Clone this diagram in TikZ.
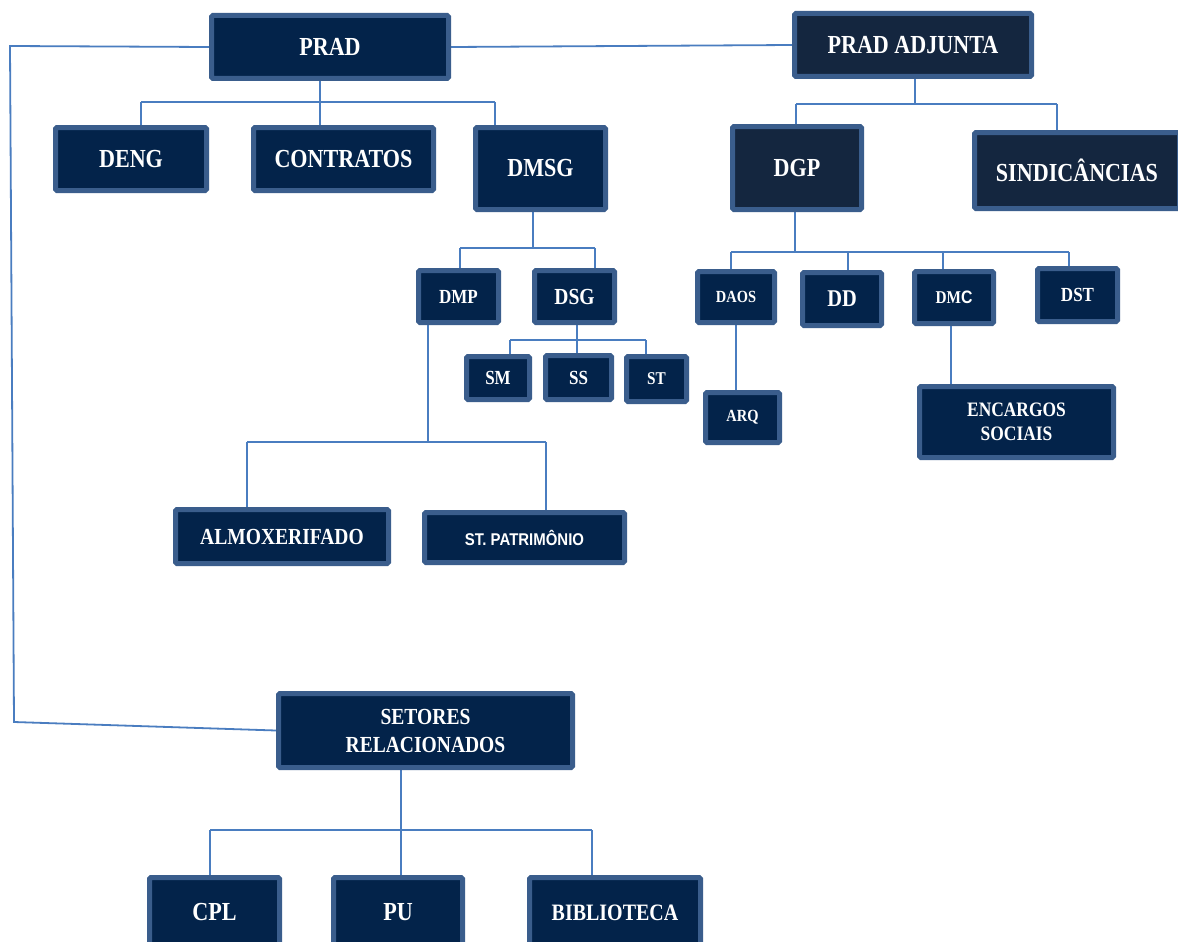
\documentclass[tikz,border=0pt]{standalone}
\usepackage{fontspec}
\setmainfont{Liberation Serif}[FakeStretch=0.85]
\newfontfamily\sfnt{Liberation Sans}[FakeStretch=0.88]
\usetikzlibrary{backgrounds}
\definecolor{bfill}{HTML}{03234A}
\definecolor{bfilltwo}{HTML}{14263F}
\definecolor{bbord}{HTML}{3A5D8C}
\definecolor{lblue}{HTML}{4A7DC0}
\newcommand\fsz[2]{\fontsize{#1}{#2}\selectfont\bfseries}
\tikzset{
  box/.style={draw=bbord, line width=5pt, fill=bfill, text=white, rounded corners=1.5pt,
              inner sep=0pt, align=center},
  boxtwo/.style={box, fill=bfilltwo},
  conn/.style={draw=lblue, line width=1.8pt},
}
\begin{document}
\begin{tikzpicture}[x=1pt,y=-1pt]
\useasboundingbox (0,0) rectangle (1178,942);
\clip (0,0) rectangle (1178,942);

% boxes
\node[box, minimum width=237, minimum height=63, font=\fsz{26}{30}] (prad) at (330,47) {PRAD};
\node[boxtwo, minimum width=237, minimum height=63, font=\fsz{26}{30}] (adj) at (913,45) {PRAD ADJUNTA};
\node[box, minimum width=151, minimum height=63, font=\fsz{26}{30}] (deng) at (131,159) {DENG};
\node[box, minimum width=180, minimum height=63, font=\fsz{26}{30}] (contr) at (343.5,159) {CONTRATOS};
\node[box, minimum width=130, minimum height=82, font=\fsz{26}{30}] (dmsg) at (540.5,168.5) {DMSG};
\node[boxtwo, minimum width=129, minimum height=83, font=\fsz{26}{30}] (dgp) at (797,168) {DGP};
\node[boxtwo, minimum width=205, minimum height=76, font=\fsz{26}{30}] (sind) at (1077,170.5) {SINDICÂNCIAS};
\node[box, minimum width=80, minimum height=52, font=\fsz{20}{24}] (dmp) at (458.5,296.5) {DMP};
\node[box, minimum width=80, minimum height=52, font=\fsz{23}{27}] (dsg) at (574.5,296.5) {DSG};
\node[box, minimum width=63, minimum height=43, font=\fsz{20}{24}] (sm) at (498,378) {SM};
\node[box, minimum width=66, minimum height=44, font=\fsz{20}{24}] (ss) at (578.5,377.5) {SS};
\node[box, minimum width=60, minimum height=45, font=\fsz{18}{22}] (st) at (656.5,379) {ST};
\node[box, minimum width=213, minimum height=54, font=\fsz{23}{27}] (almox) at (282,536.5) {ALMOXERIFADO};
\node[box, minimum width=200, minimum height=50, font=\sfnt\fsz{17}{20}] (stpat) at (524.5,537.5) {ST. PATRIMÔNIO};
\node[box, minimum width=77, minimum height=51, font=\fsz{17}{20}] (daos) at (736,297) {DAOS};
\node[box, minimum width=79, minimum height=53, font=\fsz{24}{28}] (dd) at (842,299) {DD};
\node[box, minimum width=79, minimum height=52, font=\fsz{18}{22}] (dmc) at (954,297.5) {DM{\sfnt\bfseries C}};
\node[box, minimum width=80, minimum height=53, font=\fsz{20}{24}] (dst) at (1077.5,295) {DST};
\node[box, minimum width=74, minimum height=50, font=\fsz{17}{20}] (arq) at (742.5,417.5) {ARQ};
\node[box, minimum width=194, minimum height=71, font=\fsz{20.5}{24}] (enc) at (1016.5,422) {ENCARGOS\\SOCIAIS};
\node[box, minimum width=294, minimum height=74, font=\fsz{23}{28}] (setores) at (425.5,730.5) {SETORES\\RELACIONADOS};
\node[box, minimum width=130, minimum height=70, font=\fsz{26}{30}] (cpl) at (214.5,912.5) {CPL};
\node[box, minimum width=129, minimum height=70, font=\fsz{26}{30}] (pu) at (398,912.5) {PU};
\node[box, minimum width=171, minimum height=70, font=\fsz{23.5}{28}] (bibl) at (615,912.5) {BIBLIOTECA};

% coordinates
\coordinate (lc1) at (10,46);
\coordinate (lc2) at (14,722);
\coordinate (pb) at (320,102);
\coordinate (pbl) at (141,102);
\coordinate (pbr) at (495,102);
\coordinate (ab) at (915,104);
\coordinate (abl) at (796,104);
\coordinate (abr) at (1057,104);
\coordinate (mb) at (533,248);
\coordinate (mbl) at (460,248);
\coordinate (mbr) at (595,248);
\coordinate (sb) at (577,340);
\coordinate (sbl) at (510,340);
\coordinate (sbr) at (646,340);
\coordinate (db) at (428,442);
\coordinate (dbl) at (247,442);
\coordinate (dbr) at (546,442);
\coordinate (gb) at (795,252);
\coordinate (gb1) at (731,252);
\coordinate (gb2) at (848,252);
\coordinate (gb3) at (943,252);
\coordinate (gb4) at (1069,252);
\coordinate (ax) at (736,0);
\coordinate (cx) at (951,0);
\coordinate (rb) at (401,830);
\coordinate (rbl) at (210,830);
\coordinate (rbr) at (592,830);

\begin{scope}[on background layer]
\fill[white] (0,0) rectangle (1178,942);
\draw[conn] (prad.west) -- (lc1) -- (lc2) -- (setores.west);
\draw[conn] (prad.east) -- (adj.west);
% PRAD
\draw[conn] (prad.south -| pb) -- (pb |- contr.north);
\draw[conn] (pbl) -- (pbr);
\draw[conn] (pbl) -- (pbl |- deng.north);
\draw[conn] (pbr) -- (pbr |- dmsg.north);
% PRAD ADJUNTA
\draw[conn] (adj.south -| ab) -- (ab);
\draw[conn] (abl) -- (abr);
\draw[conn] (abl) -- (abl |- dgp.north);
\draw[conn] (abr) -- (abr |- sind.north);
% DMSG
\draw[conn] (dmsg.south -| mb) -- (mb);
\draw[conn] (mbl) -- (mbr);
\draw[conn] (mbl) -- (mbl |- dmp.north);
\draw[conn] (mbr) -- (mbr |- dsg.north);
% DSG
\draw[conn] (dsg.south -| sb) -- (sb |- ss.north);
\draw[conn] (sbl) -- (sbr);
\draw[conn] (sbl) -- (sbl |- sm.north);
\draw[conn] (sbr) -- (sbr |- st.north);
% DMP
\draw[conn] (dmp.south -| db) -- (db);
\draw[conn] (dbl) -- (dbr);
\draw[conn] (dbl) -- (dbl |- almox.north);
\draw[conn] (dbr) -- (dbr |- stpat.north);
% DGP
\draw[conn] (dgp.south -| gb) -- (gb);
\draw[conn] (gb1) -- (gb4);
\draw[conn] (gb1) -- (gb1 |- daos.north);
\draw[conn] (gb2) -- (gb2 |- dd.north);
\draw[conn] (gb3) -- (gb3 |- dmc.north);
\draw[conn] (gb4) -- (gb4 |- dst.north);
% DAOS, DMC
\draw[conn] (daos.south -| ax) -- (arq.north -| ax);
\draw[conn] (dmc.south -| cx) -- (enc.north -| cx);
% SETORES
\draw[conn] (setores.south -| rb) -- (rb |- pu.north);
\draw[conn] (rbl) -- (rbr);
\draw[conn] (rbl) -- (rbl |- cpl.north);
\draw[conn] (rbr) -- (rbr |- bibl.north);
\end{scope}
\end{tikzpicture}
\end{document}
